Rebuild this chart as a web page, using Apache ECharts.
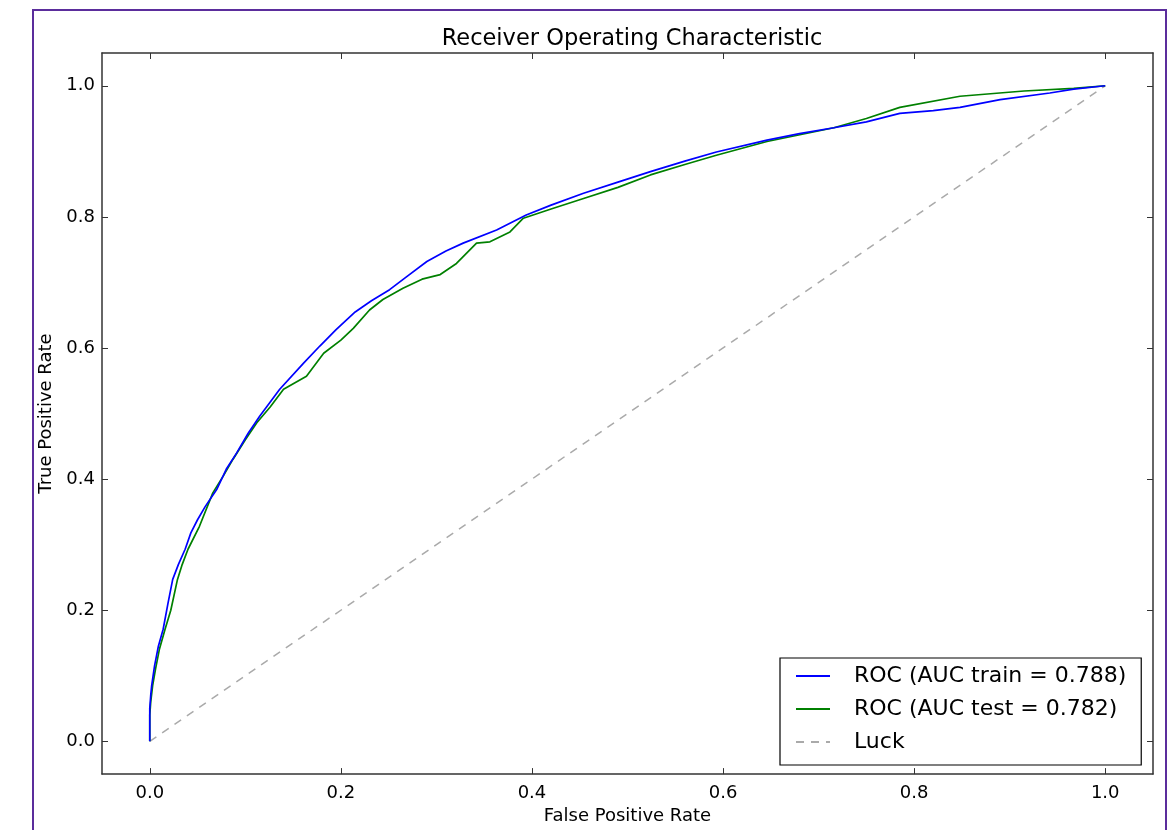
<!DOCTYPE html>
<html>
<head>
<meta charset="utf-8">
<script src="https://cdn.jsdelivr.net/npm/echarts@6/dist/echarts.min.js"></script>
<style>
html,body{margin:0;padding:0;background:#fff;}
#chart{width:1173px;height:830px;}
</style>
</head>
<body>
<div id="chart"></div>
<script>
var titleText = 'Receiver Operating Characteristic';
var xAxisName = 'False Positive Rate';
var yAxisName = 'True Positive Rate';
var xTicks = [0, 0.2, 0.4, 0.6, 0.8, 1.0];
var yTicks = [0, 0.2, 0.4, 0.6, 0.8, 1.0];
var trainName = 'ROC (AUC train = 0.788)';
var testName = 'ROC (AUC test = 0.782)';
var luckName = 'Luck';

var trainFpr = [0,0,0.001,0.002,0.005,0.009,0.014,0.019,0.024,0.030,0.037,0.043,0.050,0.058,0.070,0.080,0.091,0.103,0.115,0.136,0.161,0.178,0.195,0.215,0.232,0.251,0.270,0.290,0.310,0.328,0.363,0.394,0.420,0.454,0.490,0.524,0.560,0.593,0.646,0.680,0.716,0.750,0.785,0.820,0.848,0.890,0.942,0.967,1];
var trainTpr = [0,0.050,0.070,0.085,0.115,0.145,0.171,0.210,0.247,0.270,0.293,0.318,0.338,0.358,0.384,0.415,0.440,0.470,0.496,0.537,0.577,0.603,0.628,0.655,0.672,0.689,0.710,0.732,0.748,0.760,0.780,0.803,0.818,0.836,0.853,0.869,0.885,0.899,0.917,0.927,0.936,0.945,0.958,0.962,0.967,0.979,0.989,0.995,1];

var testFpr = [0,0,0.001,0.003,0.006,0.010,0.016,0.022,0.029,0.034,0.040,0.052,0.066,0.077,0.087,0.100,0.112,0.126,0.140,0.164,0.182,0.200,0.213,0.230,0.244,0.265,0.285,0.304,0.321,0.342,0.356,0.377,0.391,0.420,0.454,0.490,0.524,0.560,0.593,0.646,0.716,0.750,0.785,0.848,0.915,0.967,1];
var testTpr = [0,0.040,0.060,0.085,0.110,0.140,0.171,0.200,0.247,0.270,0.293,0.328,0.379,0.405,0.430,0.460,0.486,0.510,0.537,0.557,0.592,0.612,0.630,0.658,0.674,0.691,0.705,0.712,0.729,0.760,0.762,0.777,0.798,0.812,0.828,0.845,0.864,0.880,0.894,0.915,0.936,0.950,0.967,0.984,0.992,0.996,1];

var luckX = [0, 1];
var luckY = [0, 1];

function zip(a, b) { return a.map(function (v, i) { return [v, b[i]]; }); }

var FONT = 'DejaVu Sans';
var axisColor = '#333';
function fmt(v) { return v.toFixed(1); }

var chart = echarts.init(document.getElementById('chart'), null, {renderer: 'canvas'});
chart.setOption({
  animation: false,
  backgroundColor: '#fff',
  title: {
    text: titleText,
    left: 627,
    top: 23,
    textAlign: 'center',
    textStyle: {fontFamily: FONT, fontSize: 22.5, fontWeight: 'normal', color: '#000'}
  },
  grid: {left: 102, right: 20, top: 53, bottom: 55, containLabel: false},
  xAxis: [{
    type: 'value', min: -0.05, max: 1.05, position: 'bottom',
    name: xAxisName, nameLocation: 'middle', nameGap: 31,
    nameTextStyle: {fontFamily: FONT, fontSize: 18, color: '#000'},
    axisLine: {show: true, onZero: false, lineStyle: {color: axisColor, width: 1.5}},
    axisTick: {show: true, inside: true, length: 6, customValues: xTicks, lineStyle: {color: axisColor}},
    axisLabel: {show: true, margin: 10, customValues: xTicks, formatter: fmt, fontFamily: FONT, fontSize: 18, color: '#000'},
    splitLine: {show: false}
  }, {
    type: 'value', min: -0.05, max: 1.05, position: 'top',
    axisLine: {show: true, onZero: false, lineStyle: {color: axisColor, width: 1.5}},
    axisTick: {show: true, inside: true, length: 6, customValues: xTicks, lineStyle: {color: axisColor}},
    axisLabel: {show: false},
    splitLine: {show: false}
  }],
  yAxis: [{
    type: 'value', min: -0.05, max: 1.05, position: 'left',
    name: yAxisName, nameLocation: 'middle', nameGap: 42,
    nameTextStyle: {fontFamily: FONT, fontSize: 18, color: '#000'},
    axisLine: {show: true, onZero: false, lineStyle: {color: axisColor, width: 1.5}},
    axisTick: {show: true, inside: true, length: 6, customValues: yTicks, lineStyle: {color: axisColor}},
    axisLabel: {show: true, margin: 7, customValues: yTicks, formatter: fmt, fontFamily: FONT, fontSize: 18, color: '#000'},
    splitLine: {show: false}
  }, {
    type: 'value', min: -0.05, max: 1.05, position: 'right',
    axisLine: {show: true, onZero: false, lineStyle: {color: axisColor, width: 1.5}},
    axisTick: {show: true, inside: true, length: 6, customValues: yTicks, lineStyle: {color: axisColor}},
    axisLabel: {show: false},
    splitLine: {show: false}
  }],
  legend: {
    orient: 'vertical',
    left: 780, top: 658,
    backgroundColor: '#fff',
    borderColor: '#000', borderWidth: 1.2, borderRadius: 0,
    padding: [7, 15, 12, 15],
    itemWidth: 34, itemHeight: 14, itemGap: 11,
    itemStyle: {opacity: 0},
    textStyle: {fontFamily: FONT, fontSize: 22, color: '#000', lineHeight: 22, padding: [0, 0, 0, 19]},
    data: [trainName, testName, luckName]
  },
  series: [{
    name: luckName, type: 'line', data: zip(luckX, luckY),
    symbol: 'none', silent: true, z: 1,
    itemStyle: {color: '#aaaaaa'},
    lineStyle: {color: '#aaaaaa', width: 1.5, type: [8, 7]}
  }, {
    name: trainName, type: 'line', data: zip(trainFpr, trainTpr),
    symbol: 'none', z: 3,
    itemStyle: {color: '#0000ff'},
    lineStyle: {color: '#0000ff', width: 1.7}
  }, {
    name: testName, type: 'line', data: zip(testFpr, testTpr),
    symbol: 'none', z: 2,
    itemStyle: {color: '#008000'},
    lineStyle: {color: '#008000', width: 1.7}
  }],
  graphic: [{
    type: 'rect', z: 100, silent: true,
    shape: {x: 33, y: 10, width: 1133, height: 840},
    style: {fill: null, stroke: '#5b2d9c', lineWidth: 2}
  }]
});
</script>
</body>
</html>
